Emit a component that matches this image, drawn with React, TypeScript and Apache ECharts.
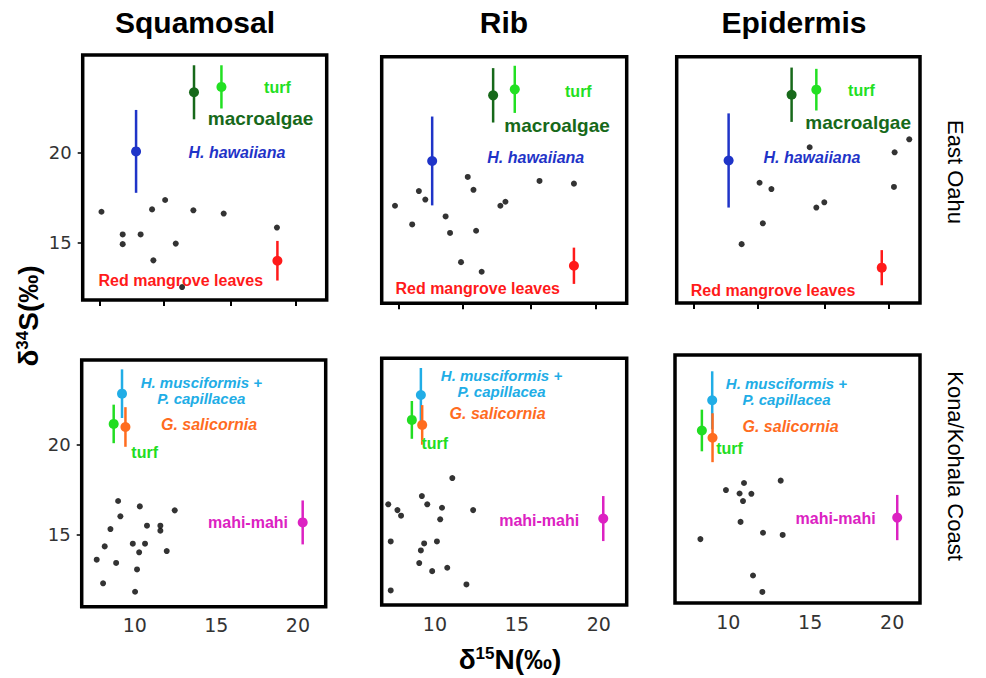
import React, { useEffect, useRef } from 'react';
import * as echarts from 'echarts';

// ---------- data ----------
const columns = ['Squamosal', 'Rib', 'Epidermis'];
const rows = ['East Oahu', 'Kona/Kohala Coast'];

const xTicksTop = [7.8, 11.7, 15.85, 19.8];
const xTickLabels = [10, 15, 20];
const yTickLabels = [15, 20];

// individual samples (δ15N, δ34S)
const squamosalOahu = [[7.9,16.7],[9.2,15.44],[9.2,14.9],[10.3,15.44],[11.0,16.83],[11.8,17.35],[11.08,14.0],[12.45,14.93],[13.53,16.78],[15.39,16.6],[18.65,15.82],[12.84,12.52]];
const ribOahu = [[7.56,17.18],[8.61,16.15],[9.02,17.99],[9.41,17.52],[10.65,16.59],[10.92,15.68],[11.59,14.07],[12.0,18.77],[12.35,18.06],[12.51,15.8],[12.85,13.54],[13.99,17.18],[14.3,17.4],[16.38,18.55],[18.48,18.4]];
const epidermisOahu = [[10.74,15.05],[11.84,18.44],[12.04,16.2],[12.57,18.09],[14.92,20.4],[15.33,17.07],[15.82,17.36],[20.1,18.21],[20.14,20.12],[21.04,20.84]];
const squamosalKona = [[8.98,16.87],[10.31,16.57],[9.12,16.02],[12.45,16.35],[8.51,15.31],[10.75,15.5],[11.57,15.5],[11.57,15.22],[8.16,14.35],[9.88,14.5],[10.63,14.5],[10.27,14.02],[11.96,14.09],[7.67,13.61],[8.86,13.43],[10.14,13.07],[8.06,12.3],[10.02,11.83]];
const ribKona = [[11.06,18.05],[9.2,17.05],[9.53,16.59],[7.15,16.59],[7.71,16.27],[7.93,15.96],[10.43,16.4],[12.33,16.27],[10.32,15.76],[7.3,14.53],[9.34,14.42],[10.12,14.53],[9.14,14.03],[9.04,13.33],[9.83,12.88],[10.75,13.07],[11.92,12.14],[7.3,11.81]];
const epidermisKona = [[13.2,17.76],[10.96,17.63],[9.86,17.24],[10.69,17.05],[11.41,17.03],[10.9,16.63],[10.75,15.48],[12.12,14.88],[13.32,14.76],[8.3,14.53],[11.51,12.52],[12.08,11.61]];

// source means: [group, δ15N, δ34S, sd]
const meansSquamosalOahu = [['macroalgae',13.57,23.33,1.5],['turf',15.25,23.63,1.2],['hawaiiana',10.02,20.05,2.3],['mangrove',18.68,13.98,1.1]];
const meansRibOahu = [['macroalgae',13.55,23.27,1.5],['turf',14.87,23.6,1.3],['hawaiiana',9.83,19.65,2.45],['mangrove',18.48,13.87,1.0]];
const meansEpidermisOahu = [['macroalgae',13.81,23.3,1.5],['turf',15.33,23.58,1.15],['hawaiiana',9.94,19.67,2.6],['mangrove',19.35,13.75,0.97]];
const meansSquamosalKona = [['turfK',8.71,21.15,1.07],['musciformis',9.22,22.83,1.35],['salicornia',9.43,20.98,1.1],['mahi',20.29,15.68,1.22]];
const meansRibKona = [['turfK',8.59,21.28,1.05],['musciformis',9.14,22.66,1.5],['salicornia',9.22,21.0,1.1],['mahi',20.27,15.8,1.25]];
const meansEpidermisKona = [['turfK',8.39,20.53,1.15],['musciformis',9.02,22.2,1.6],['salicornia',9.04,20.13,1.35],['mahi',20.31,15.72,1.25]];

// annotation anchors (data coordinates)
const labelsSquamosalOahu = [['turf',18.68,23.6],['macroalgae',17.65,21.9],['hawaiiana',16.2,20.0],['mangrove',12.76,12.9]];
const labelsRibOahu = [['turf',18.75,23.5],['macroalgae',17.45,21.6],['hawaiiana',16.15,19.83],['mangrove',12.61,12.62]];
const labelsEpidermisOahu = [['turf',18.1,23.56],['macroalgae',17.9,21.76],['hawaiiana',15.06,19.84],['mangrove',12.67,12.5]];
const labelsSquamosalKona = [['musciformis',14.08,23.02],['salicornia',14.55,21.11],['turfK',10.61,19.57],['mahi',16.94,15.65]];
const labelsRibKona = [['musciformis',14.06,23.3],['salicornia',13.82,21.65],['turfK',9.99,19.98],['mahi',16.36,15.68]];
const labelsEpidermisKona = [['musciformis',13.55,22.67],['salicornia',13.8,20.75],['turfK',10.08,19.52],['mahi',16.55,15.68]];

const groupText: Record<string, string> = {
  macroalgae: 'macroalgae',
  turf: 'turf',
  turfK: 'turf',
  hawaiiana: 'H. hawaiiana',
  mangrove: 'Red mangrove leaves',
  musciformis: 'H. musciformis +\nP. capillacea',
  salicornia: 'G. salicornia',
  mahi: 'mahi-mahi',
};

// ---------- styles ----------
const groupColor: Record<string, string> = {
  macroalgae: '#17691a',
  turf: '#22e022',
  turfK: '#22dd22',
  hawaiiana: '#1f34c8',
  mangrove: '#ff1a1a',
  musciformis: '#21ade6',
  salicornia: '#ff6c1f',
  mahi: '#dc22c2',
};
const groupFont: Record<string, { size: number; italic: boolean }> = {
  macroalgae: { size: 19, italic: false },
  turf: { size: 16, italic: false },
  turfK: { size: 16, italic: false },
  hawaiiana: { size: 16, italic: true },
  mangrove: { size: 16, italic: false },
  musciformis: { size: 15, italic: true },
  salicornia: { size: 16, italic: true },
  mahi: { size: 16, italic: false },
};

const SANS = '"Liberation Sans", Arial, sans-serif';
const TICKFONT = '"DejaVu Sans", Verdana, sans-serif';

const panels = [
  { row: 0, col: 0, left: 82.7, top: 55, width: 244, height: 245, pts: squamosalOahu, means: meansSquamosalOahu, labels: labelsSquamosalOahu },
  { row: 0, col: 1, left: 381.7, top: 56.7, width: 245, height: 246.6, pts: ribOahu, means: meansRibOahu, labels: labelsRibOahu },
  { row: 0, col: 2, left: 676.7, top: 56.7, width: 243.3, height: 246.3, pts: epidermisOahu, means: meansEpidermisOahu, labels: labelsEpidermisOahu },
  { row: 1, col: 0, left: 81.7, top: 360, width: 244, height: 246.7, pts: squamosalKona, means: meansSquamosalKona, labels: labelsSquamosalKona },
  { row: 1, col: 1, left: 381.7, top: 358.3, width: 245, height: 246.7, pts: ribKona, means: meansRibKona, labels: labelsRibKona },
  { row: 1, col: 2, left: 675, top: 355, width: 245, height: 248, pts: epidermisKona, means: meansEpidermisKona, labels: labelsEpidermisKona },
];

const xRange = [6.75, 21.7];
const yRanges = [[11.8, 25.4], [11.0, 24.7]];

function buildOption() {
  const grid: any[] = [];
  const xAxis: any[] = [];
  const yAxis: any[] = [];
  const series: any[] = [];

  panels.forEach((p, i) => {
    grid.push({
      left: p.left, top: p.top, width: p.width, height: p.height,
      show: true, borderColor: '#000', borderWidth: 3.5, backgroundColor: 'transparent',
      containLabel: false, outerBoundsMode: 'none',
    });
    const bottomRow = p.row === 1;
    xAxis.push({
      type: 'value', gridIndex: i, min: xRange[0], max: xRange[1],
      axisLine: { show: false }, splitLine: { show: false },
      axisTick: bottomRow
        ? { show: false }
        : { show: true, customValues: xTicksTop, length: 6, inside: false, lineStyle: { color: '#000', width: 2 } },
      axisLabel: bottomRow
        ? { show: true, customValues: xTickLabels, margin: 9, fontSize: 19, color: '#333', fontFamily: TICKFONT }
        : { show: false },
    });
    const leftCol = p.col === 0;
    yAxis.push({
      type: 'value', gridIndex: i, min: yRanges[p.row][0], max: yRanges[p.row][1],
      axisLine: { show: false }, splitLine: { show: false },
      axisTick: leftCol
        ? { show: true, customValues: yTickLabels, length: 5, lineStyle: { color: '#000', width: 1.5 } }
        : { show: false },
      axisLabel: leftCol
        ? { show: true, customValues: yTickLabels, margin: 11, fontSize: 18, color: '#333', fontFamily: TICKFONT }
        : { show: false },
    });

    series.push({
      type: 'scatter', xAxisIndex: i, yAxisIndex: i, data: p.pts,
      symbolSize: 6, itemStyle: { color: '#000' }, silent: true, z: 3,
    });

    series.push({
      type: 'custom', xAxisIndex: i, yAxisIndex: i, silent: true, z: 4, clip: false,
      data: p.means.map((m: any) => [m[1], m[2], m[3]]),
      renderItem: (params: any, api: any) => {
        const g = p.means[params.dataIndex][0] as string;
        const color = groupColor[g];
        const x = api.value(0), y = api.value(1), e = api.value(2);
        const a = api.coord([x, y - e]);
        const b = api.coord([x, y + e]);
        const c = api.coord([x, y]);
        return {
          type: 'group',
          children: [
            { type: 'line', shape: { x1: a[0], y1: a[1], x2: b[0], y2: b[1] }, style: { stroke: color, lineWidth: 2.5 } },
            { type: 'circle', shape: { cx: c[0], cy: c[1], r: 5 }, style: { fill: color } },
          ],
        };
      },
    });

    series.push({
      type: 'custom', xAxisIndex: i, yAxisIndex: i, silent: true, z: 5, clip: false,
      data: p.labels.map((l: any) => [l[1], l[2]]),
      renderItem: (params: any, api: any) => {
        const g = p.labels[params.dataIndex][0] as string;
        const c = api.coord([api.value(0), api.value(1)]);
        const f = groupFont[g];
        return {
          type: 'text', x: c[0], y: c[1],
          style: {
            text: groupText[g], fill: groupColor[g], fontSize: f.size, fontWeight: 'bold',
            fontStyle: f.italic ? 'italic' : 'normal', fontFamily: SANS,
            align: 'center', verticalAlign: 'middle', lineHeight: 16,
          },
        };
      },
    });
  });

  const graphic: any[] = [
    { type: 'text', x: 195, y: 22, style: { text: columns[0], fontSize: 30, fontWeight: 'bold', fontFamily: SANS, fill: '#000', align: 'center', verticalAlign: 'middle' } },
    { type: 'text', x: 504, y: 22, style: { text: columns[1], fontSize: 30, fontWeight: 'bold', fontFamily: SANS, fill: '#000', align: 'center', verticalAlign: 'middle' } },
    { type: 'text', x: 794, y: 22, style: { text: columns[2], fontSize: 30, fontWeight: 'bold', fontFamily: SANS, fill: '#000', align: 'center', verticalAlign: 'middle' } },
    { type: 'text', x: 955, y: 172, rotation: -Math.PI / 2, style: { text: rows[0], fontSize: 22, fontFamily: SANS, fill: '#000', align: 'center', verticalAlign: 'middle' } },
    { type: 'text', x: 955, y: 466, rotation: -Math.PI / 2, style: { text: rows[1], fontSize: 22, fontFamily: SANS, fill: '#000', align: 'center', verticalAlign: 'middle' } },
    {
      type: 'text', x: 28, y: 316, rotation: Math.PI / 2,
      style: {
        text: '{a|δ}{b|34}{a|S(‰)}', align: 'center', verticalAlign: 'middle',
        rich: {
          a: { fontSize: 28, fontWeight: 'bold', fontFamily: SANS, fill: '#000', verticalAlign: 'bottom' },
          b: { fontSize: 17, fontWeight: 'bold', fontFamily: SANS, fill: '#000', verticalAlign: 'top' },
        },
      },
    },
    {
      type: 'text', x: 510, y: 659,
      style: {
        text: '{a|δ}{b|15}{a|N(‰)}', align: 'center', verticalAlign: 'middle',
        rich: {
          a: { fontSize: 28, fontWeight: 'bold', fontFamily: SANS, fill: '#000', verticalAlign: 'bottom' },
          b: { fontSize: 17, fontWeight: 'bold', fontFamily: SANS, fill: '#000', verticalAlign: 'top' },
        },
      },
    },
  ];

  return { animation: false, backgroundColor: '#fff', grid, xAxis, yAxis, series, graphic };
}

export default function App() {
  const ref = useRef<HTMLDivElement>(null);
  useEffect(() => {
    if (!ref.current) return;
    const chart = echarts.init(ref.current, undefined, { renderer: 'svg' });
    chart.setOption(buildOption() as any);
    return () => chart.dispose();
  }, []);
  return <div ref={ref} style={{ position: 'absolute', left: 0, top: 0, width: 986, height: 678 }} />;
}
